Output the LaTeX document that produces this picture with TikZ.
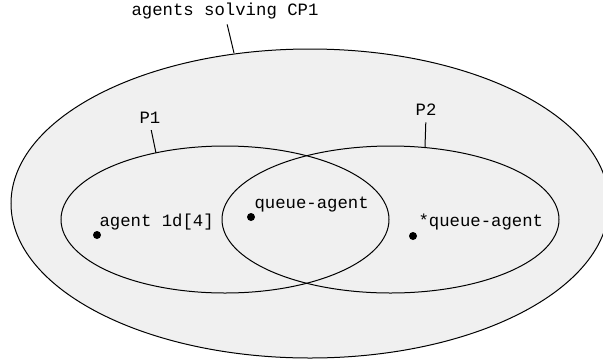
\documentclass[tikz,border=0pt]{standalone}
\usepackage{fontspec}
\setmonofont{Liberation Mono}
\usepackage{tikz}
\usetikzlibrary{shapes.geometric}

\begin{document}
\begin{tikzpicture}[x=1pt, y=-1pt, line width=1pt,
    lbl/.style={font=\ttfamily\fontsize{17.3}{20}\selectfont, inner sep=0pt},
    set/.style={draw, ellipse, inner sep=0pt},
    dot/.style={circle, fill=black, inner sep=0pt, minimum size=8pt}]
        \useasboundingbox (0,0) rectangle (603,360);
        % Outer set
        \node[set, fill=black!6, minimum width=598pt, minimum height=309pt] (cp) at (310, 203.5) {};
        % Two overlapping subsets
        \node[set, minimum width=328pt, minimum height=147pt] (p1) at (225, 219.5) {};
        \node[set, minimum width=337pt, minimum height=147pt] (p2) at (390.5, 219.5) {};
        
        % Set labels
        \node[lbl] (cplabel) at (225, 11) {agents solving CP1};
        \node[lbl] (p1label) at (150, 118) {P1};
        \node[lbl] (p2label) at (426, 110) {P2};
        \coordinate (cptop) at (234, 53);
        \coordinate (p1top) at (156, 153);
        \coordinate (p2top) at (425, 147);
        \draw[shorten <=5pt] (cplabel.south) ++(1,0) -- (cptop);
        \draw[shorten <=6pt] (p1label.south) -- (p1top);
        \draw[shorten <=6pt] (p2label.south) -- (p2top);
        
        % Agents
        \node[dot] (a1) at (97, 235) {};
        \node[dot] (a2) at (251, 217) {};
        \node[dot] (a3) at (413, 236) {};
        \node[lbl, anchor=west] (t1) at (99, 222) {agent 1d[4]};
        \node[lbl, anchor=west] (t2) at (254, 205) {queue-agent};
        \node[lbl, anchor=west] (t3) at (418, 222) {*queue-agent};
    \end{tikzpicture}
\end{document}
